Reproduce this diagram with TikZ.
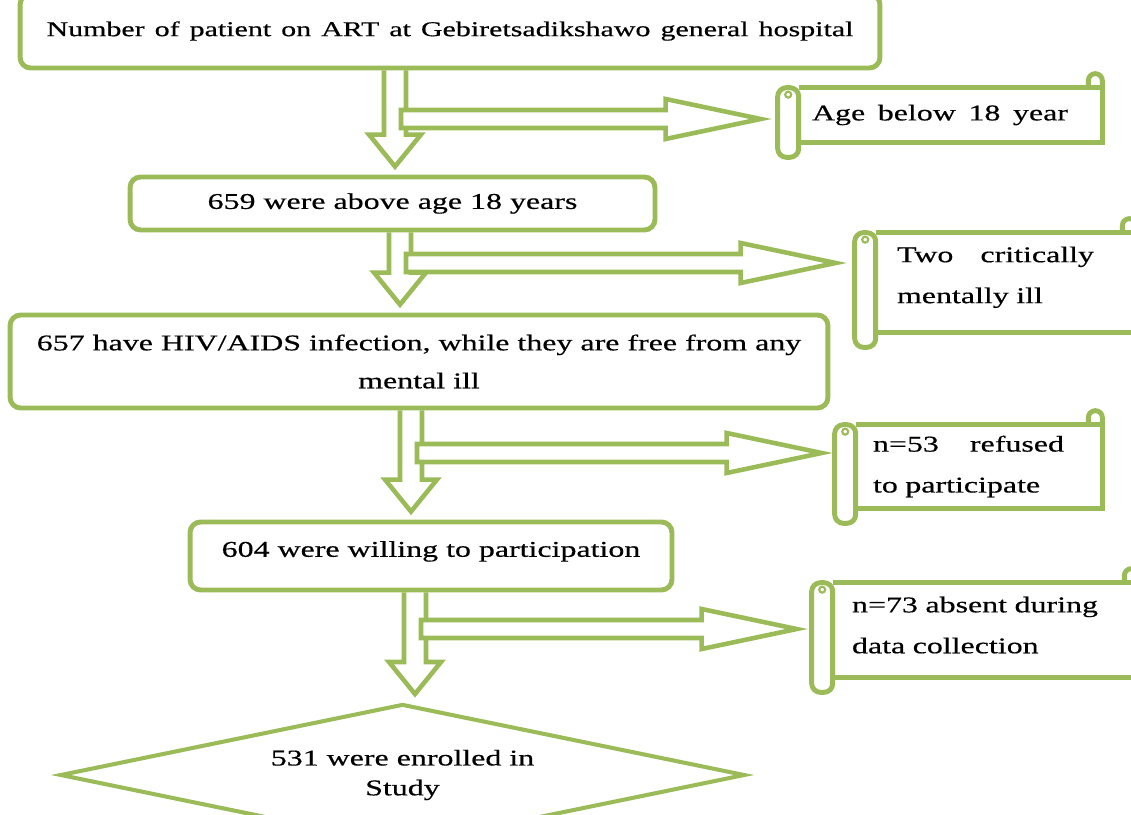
\documentclass[tikz,border=0pt]{standalone}
\usepackage{fontspec}
\setmainfont{Liberation Serif}[FakeStretch=1.42, FakeBold=0.5]
\usetikzlibrary{shapes.geometric, calc}
\definecolor{flow-green}{RGB}{155,187,89}
\tikzset{
  box/.style={draw=flow-green, line width=2.8pt, rounded corners=6pt, inner sep=0pt, align=center, font=\fontsize{12.8}{21.6}\selectfont},
  scroll/.style={inner sep=0pt, align=left, font=\fontsize{12.8}{23.3}\selectfont},
  scroll line/.style={draw=flow-green, line width=2.8pt},
  downarrow/.style={draw=flow-green, line width=2.6pt, to path={
    ($(\tikztostart)+(-11,0)$) -- ($(\tikztotarget)+(-11,40)$) -- ($(\tikztotarget)+(-26,40)$) -- ($(\tikztotarget)+(0,8)$)
    -- ($(\tikztotarget)+(26,40)$) -- ($(\tikztotarget)+(11,40)$) -- ($(\tikztostart)+(11,0)$)}},
  rightarrow/.style={draw=flow-green, fill=white, line width=2.6pt, to path={
    ($(\tikztostart)+(6,9)$) -- ($(\tikztotarget)+(-95,9)$) -- ($(\tikztotarget)+(-95,20)$) -- (\tikztotarget)
    -- ($(\tikztotarget)+(-95,-20)$) -- ($(\tikztotarget)+(-95,-9)$) -- ($(\tikztostart)+(6,-9)$) -- cycle}}
}

\begin{document}
\begin{tikzpicture}[x=0.02cm, y=0.02cm]
    \useasboundingbox (0,0) rectangle (1131,-814);

    % Main flow boxes
    \node[box, minimum width=17.2cm, minimum height=1.48cm] (total) at (450,-31)
        {\makebox[16.14cm][s]{\fontsize{12}{14}\selectfont Number of patient on ART at Gebiretsadikshawo general hospital}};
    \node[box, minimum width=10.5cm, minimum height=1.06cm] (above18) at (392.5,-203.5) {659 were above age 18 years};
    \node[box, minimum width=16.36cm, minimum height=1.86cm] (free) at (419,-361.5)
        {657 have HIV/AIDS infection, while they are free from any\\mental ill};
    \node[box, minimum width=9.64cm, minimum height=1.36cm, text depth=8pt] (willing) at (431,-556) {604 were willing to participation};
    \node[diamond, aspect=4.8, draw=flow-green, line width=2.3pt, inner sep=0pt, minimum width=13.7cm, minimum height=2.84cm,
        align=center, font=\fontsize{12.8}{17}\selectfont] (enrolled) at (402.5,-775) {531 were enrolled in\\Study};

    % Exclusion scrolls
    \node[scroll, minimum width=6.48cm, minimum height=1.08cm, text width=5.12cm] (under18) at (940,-115)
        {Age \hfill below \hfill 18 \hfill year};
    \node[scroll, minimum width=5.62cm, minimum height=1.98cm, text width=3.94cm, text depth=32pt] (mentill) at (995.5,-282.5)
        {Two \hfill critically\\mentally ill};
    \node[scroll, minimum width=5.34cm, minimum height=1.66cm, text width=3.82cm] (refused) at (968.5,-466.5)
        {n=53 \hfill refused\\to participate};
    \node[scroll, minimum width=6.52cm, minimum height=1.88cm, text width=4.92cm, text depth=29pt] (absent) at (975,-630)
        {n=73 \hfill absent \hfill during\\data collection};

    % Scroll outlines: left roll, body, top-right curl
    \foreach \s in {under18,mentill,refused,absent} {
        \draw[scroll line, rounded corners=5pt] (\s.north west) rectangle ($(\s.south west)+(21,-15)$);
        \draw[scroll line] ($(\s.north west)+(21,0)$) -- (\s.north east) -- (\s.south east) -- ($(\s.south west)+(21,0)$);
        \draw[scroll line] (\s.north east) -- ++(0,7) arc[start angle=0, end angle=180, radius=7] -- ++(0,-7);
        \draw[scroll line, line width=1.2pt] ($(\s.north west)+(10.5,-7)$) circle[radius=3];
    }

    % Arrow axes and tips
    \coordinate (ax1) at (395,0);
    \coordinate (ax2) at (400,0);
    \coordinate (ax3) at (411,0);
    \coordinate (ax4) at (415,0);
    \coordinate (tip1) at ($(under18.west)+(-17,-4)$);
    \coordinate (tip2) at ($(mentill.west)+(-19,19.5)$);
    \coordinate (tip3) at ($(refused.west)+(-13,13.5)$);
    \coordinate (tip4) at ($(absent.west)+(-15,1)$);

    % Hollow arrows: down to next step, right to exclusion
    \foreach \src/\dst/\k in {total/above18/1,above18/free/2,free/willing/3,willing/enrolled/4} {
        \draw[downarrow] (\src.south -| ax\k) to (\dst.north -| ax\k);
        \draw[rightarrow] (ax\k |- tip\k) to (tip\k);
    }
\end{tikzpicture}
\end{document}
